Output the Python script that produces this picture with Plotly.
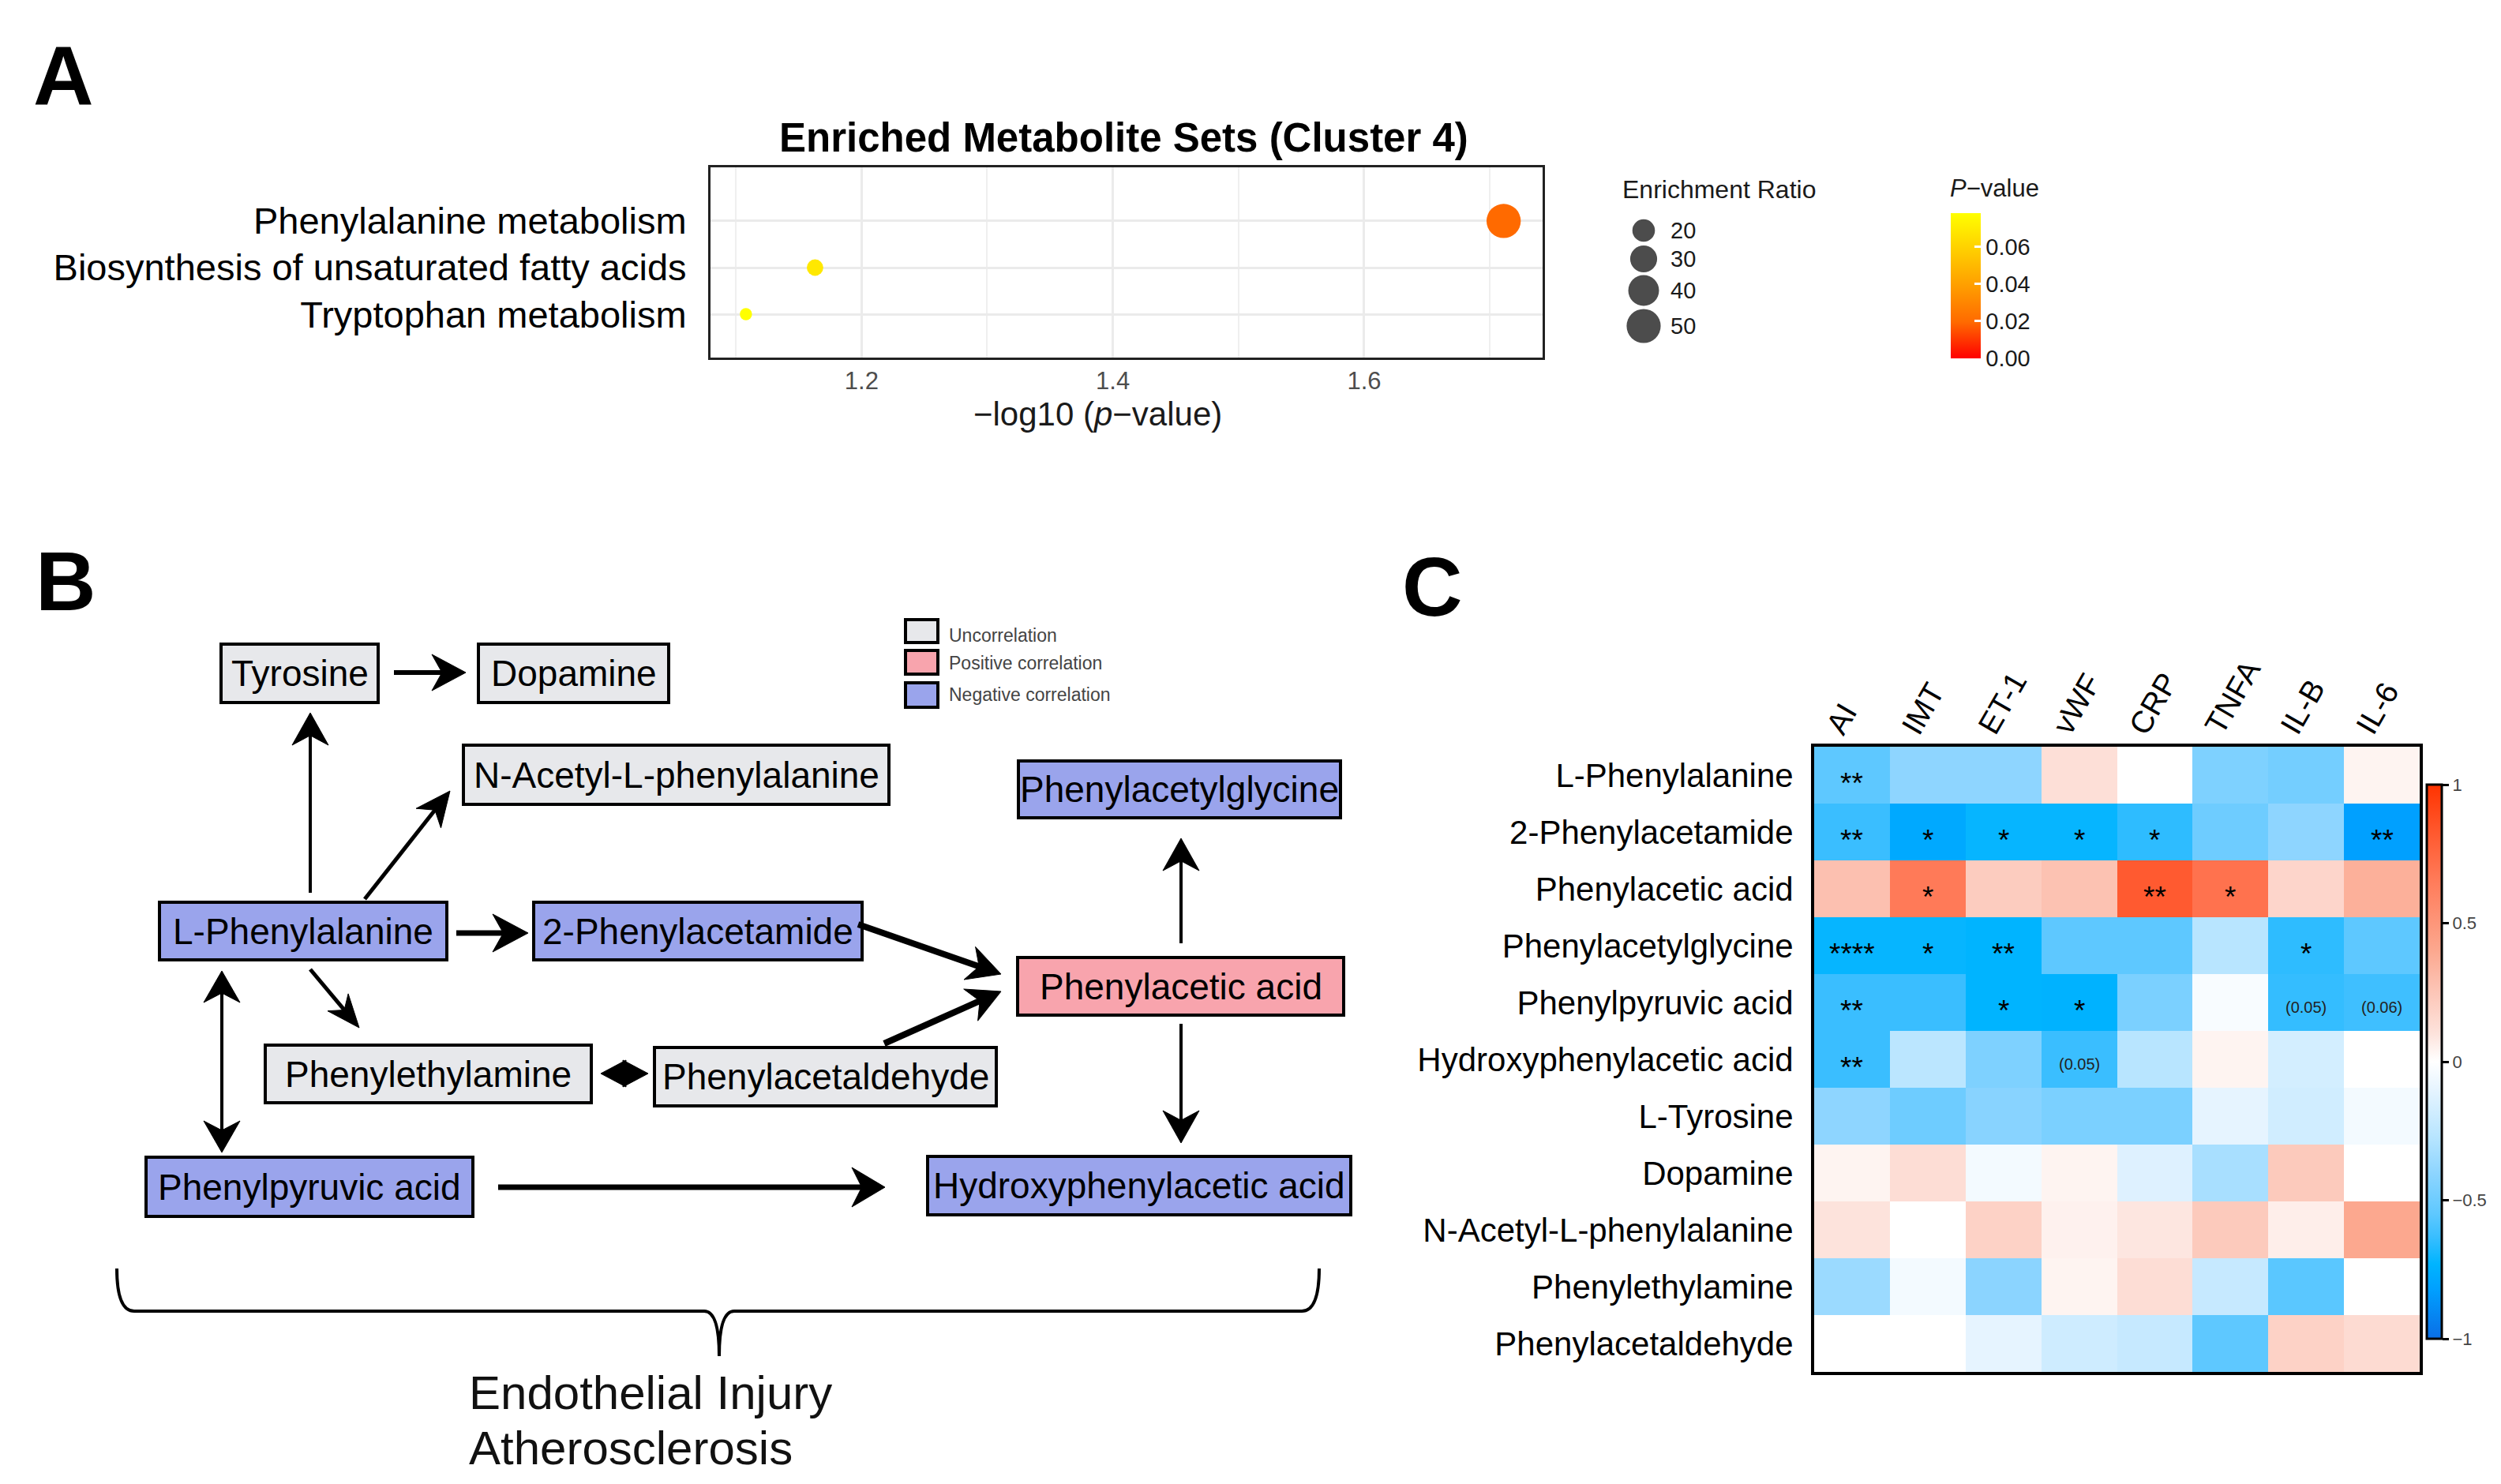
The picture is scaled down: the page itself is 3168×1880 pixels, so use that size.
import numpy as np
import plotly.graph_objects as go

# ---------------- DATA ----------------
# Panel A: enriched metabolite sets
pathways = ["Tryptophan metabolism", "Biosynthesis of unsaturated fatty acids", "Phenylalanine metabolism"]
neg_log10_p = [1.108, 1.163, 1.711]
enrichment_ratio = [3.4, 9.0, 50.5]
p_values = [0.078, 0.0687, 0.0195]
size_legend_values = [20, 30, 40, 50]
pval_ticks = [0.00, 0.02, 0.04, 0.06]
x_ticks_a = [1.2, 1.4, 1.6]

# Panel B: pathway nodes and their correlation class
nodes = ["Tyrosine", "Dopamine", "N-Acetyl-L-phenylalanine", "Phenylacetylglycine",
         "L-Phenylalanine", "2-Phenylacetamide", "Phenylacetic acid", "Phenylethylamine",
         "Phenylacetaldehyde", "Phenylpyruvic acid", "Hydroxyphenylacetic acid"]
node_class = ["none", "none", "none", "neg", "neg", "neg", "pos", "none", "none", "neg", "neg"]
edges = [("Tyrosine", "Dopamine"), ("L-Phenylalanine", "Tyrosine"),
         ("L-Phenylalanine", "N-Acetyl-L-phenylalanine"), ("L-Phenylalanine", "2-Phenylacetamide"),
         ("2-Phenylacetamide", "Phenylacetic acid"), ("Phenylacetaldehyde", "Phenylacetic acid"),
         ("Phenylacetic acid", "Phenylacetylglycine"), ("Phenylacetic acid", "Hydroxyphenylacetic acid"),
         ("L-Phenylalanine", "Phenylethylamine"), ("L-Phenylalanine", "Phenylpyruvic acid"),
         ("Phenylethylamine", "Phenylacetaldehyde"), ("Phenylpyruvic acid", "Hydroxyphenylacetic acid")]
edge_bidirectional = [False, False, False, False, False, False, False, False, False, True, True, False]
legend_classes = ["none", "pos", "neg"]
legend_labels = ["Uncorrelation", "Positive correlation", "Negative correlation"]
outcome_lines = ["Endothelial Injury", "Atherosclerosis"]

# Panel C: correlation heatmap
metabolites = ["L-Phenylalanine", "2-Phenylacetamide", "Phenylacetic acid", "Phenylacetylglycine",
               "Phenylpyruvic acid", "Hydroxyphenylacetic acid", "L-Tyrosine", "Dopamine",
               "N-Acetyl-L-phenylalanine", "Phenylethylamine", "Phenylacetaldehyde"]
clinical = ["AI", "IMT", "ET-1", "vWF", "CRP", "TNFA", "IL-B", "IL-6"]
corr = [
    [-0.55, -0.40, -0.40, 0.12, 0.00, -0.45, -0.48, 0.04],
    [-0.63, -0.78, -0.72, -0.72, -0.65, -0.50, -0.40, -0.82],
    [0.28, 0.66, 0.22, 0.27, 0.82, 0.70, 0.17, 0.36],
    [-0.72, -0.72, -0.73, -0.55, -0.55, -0.27, -0.65, -0.55],
    [-0.63, -0.63, -0.73, -0.74, -0.46, -0.03, -0.64, -0.62],
    [-0.63, -0.26, -0.45, -0.63, -0.27, 0.04, -0.17, 0.00],
    [-0.40, -0.50, -0.42, -0.46, -0.46, -0.10, -0.18, -0.05],
    [0.04, 0.13, -0.05, 0.04, -0.13, -0.32, 0.23, 0.00],
    [0.10, 0.00, 0.19, 0.05, 0.09, 0.23, 0.06, 0.40],
    [-0.36, -0.05, -0.41, 0.04, 0.13, -0.22, -0.56, 0.00],
    [0.00, 0.00, -0.10, -0.19, -0.22, -0.55, 0.19, 0.14],
]
sig = [
    ["**", "", "", "", "", "", "", ""],
    ["**", "*", "*", "*", "*", "", "", "**"],
    ["", "*", "", "", "**", "*", "", ""],
    ["****", "*", "**", "", "", "", "*", ""],
    ["**", "", "*", "*", "", "", "(0.05)", "(0.06)"],
    ["**", "", "", "(0.05)", "", "", "", ""],
    ["", "", "", "", "", "", "", ""],
    ["", "", "", "", "", "", "", ""],
    ["", "", "", "", "", "", "", ""],
    ["", "", "", "", "", "", "", ""],
    ["", "", "", "", "", "", "", ""],
]
corr_ticks = [-1, -0.5, 0, 0.5, 1]

# ---------------- STYLE / LAYOUT ----------------
W, H = 3168, 1880
FONT = "Liberation Sans"


def px_x(v):
    return v / W


def px_y(v):
    return 1 - v / H


def size_scale(v):
    return float(np.sqrt(120 + 34.9 * v))


pval_scale = [[0.0, "#FF0000"], [0.25, "#FF6A00"], [0.5, "#FF9E00"], [0.75, "#FFCF00"], [1.0, "#FFFF00"]]
corr_scale = [[0.0, "#0A6EE6"], [0.09, "#00A0FF"], [0.135, "#00B4FF"], [0.185, "#3ABEFF"],
              [0.225, "#5EC8FF"], [0.3, "#8ED5FF"], [0.365, "#B8E5FF"], [0.45, "#E6F4FF"],
              [0.5, "#FFFFFF"], [0.55, "#FDE3DC"], [0.64, "#FCC0B0"], [0.7, "#FCA88F"],
              [0.83, "#FF7A58"], [0.91, "#FF5A30"], [1.0, "#FF3300"]]
class_fill = {"none": "#E7E8EB", "pos": "#F8A4AD", "neg": "#9AA4EC"}

# node boxes (x0, y0, x1, y1) in figure pixels
node_box = {
    "Tyrosine": (272, 808, 471, 882),
    "Dopamine": (598, 808, 839, 882),
    "N-Acetyl-L-phenylalanine": (579, 936, 1118, 1011),
    "Phenylacetylglycine": (1282, 956, 1690, 1028),
    "L-Phenylalanine": (194, 1135, 558, 1208),
    "2-Phenylacetamide": (668, 1135, 1084, 1208),
    "Phenylacetic acid": (1281, 1205, 1694, 1278),
    "Phenylethylamine": (328, 1316, 741, 1389),
    "Phenylacetaldehyde": (821, 1319, 1254, 1393),
    "Phenylpyruvic acid": (177, 1458, 591, 1533),
    "Hydroxyphenylacetic acid": (1167, 1457, 1703, 1531),
}
# arrow geometry: (tail x, tail y, tip x, tip y, shaft width, head length, head half-width, notch)
edge_geom = [
    (491, 844, 582, 844, 6, 43, 23, 0.7),
    (385, 1123, 385, 895, 4, 41, 23, 0.7),
    (454, 1131, 562, 994, 5, 44, 20, 0.7),
    (570, 1174, 661, 1174, 7, 45, 24, 0.7),
    (1079, 1163, 1260, 1226, 8, 42, 22, 0.7),
    (1112, 1314, 1260, 1248, 8, 42, 22, 0.7),
    (1488, 1187, 1488, 1054, 4, 41, 23, 0.7),
    (1488, 1289, 1488, 1440, 4, 41, 23, 0.7),
    (385, 1220, 447, 1294, 5, 42, 17, 0.7),
    (273, 1222, 273, 1452, 4, 40, 23, 0.7),
    (753, 1352, 813, 1352, 2, 32, 17, 0.97),
    (623, 1496, 1113, 1496, 7, 42, 25, 0.7),
]
legend_box = [(1139, 777, 1180, 806), (1139, 816, 1180, 846), (1139, 857, 1180, 888)]
legend_label_y = [797, 832, 872]

fig = go.Figure()

# ---- Panel A dot plot ----
fig.add_trace(go.Scatter(
    x=neg_log10_p, y=pathways, mode="markers", xaxis="x", yaxis="y", showlegend=False,
    cliponaxis=False,
    marker=dict(size=[size_scale(v) for v in enrichment_ratio], color=p_values,
                colorscale=pval_scale, cmin=0, cmax=0.078, opacity=1, line=dict(width=0),
                colorbar=dict(x=px_x(2463), xanchor="left", xpad=0, ypad=0,
                              y=px_y(354), yanchor="middle", len=184 / H, lenmode="fraction",
                              thickness=38, outlinewidth=0, ticks="inside", ticklen=8,
                              tickwidth=3, tickcolor="white", tickvals=pval_ticks,
                              ticktext=[f"{t:.2f}" for t in pval_ticks],
                              tickfont=dict(family=FONT, size=29, color="#1a1a1a")))))

# size legend
sl_y = [284, 320, 360, 405]
fig.add_trace(go.Scatter(
    x=[2074] * len(size_legend_values), y=sl_y, mode="markers", xaxis="x3", yaxis="y3",
    showlegend=False, cliponaxis=False,
    marker=dict(size=[size_scale(v) for v in size_legend_values], color="black", line=dict(width=0))))

# ---- Panel C heatmap ----
fig.add_trace(go.Heatmap(
    z=corr, x=clinical, y=metabolites, xaxis="x2", yaxis="y2", zmin=-1, zmax=1,
    colorscale=corr_scale, showscale=True, hoverinfo="skip",
    colorbar=dict(x=px_x(3066), xanchor="left", xpad=0, ypad=0, y=px_y(1337), yanchor="middle",
                  len=702 / H, lenmode="fraction", thickness=19, outlinewidth=3,
                  outlinecolor="black", ticks="outside", ticklen=8, tickwidth=3,
                  tickcolor="black", tickvals=corr_ticks,
                  ticktext=["\u22121", "\u22120.5", "0", "0.5", "1"],
                  tickfont=dict(family=FONT, size=22, color="#444"))))

annotations = []
shapes = []

for v, yy in zip(size_legend_values, sl_y):
    annotations.append(dict(x=2106, y=yy, xref="x3", yref="y3", text=str(v), showarrow=False,
                            xanchor="left", font=dict(family=FONT, size=29, color="#1a1a1a")))

for i, m in enumerate(metabolites):
    for j, c in enumerate(clinical):
        s = sig[i][j]
        if not s:
            continue
        if s.startswith("("):
            annotations.append(dict(x=c, y=m, xref="x2", yref="y2", text=s, showarrow=False,
                                    font=dict(family=FONT, size=20, color="#222"), yshift=-6))
        else:
            annotations.append(dict(x=c, y=m, xref="x2", yref="y2", text=s, showarrow=False,
                                    font=dict(family=FONT, size=37, color="black"), yshift=-10))

# rotated column labels of the heatmap
for c in clinical:
    annotations.append(dict(x=c, y=px_y(932), xref="x2", yref="paper", text=c, showarrow=False,
                            textangle=-60, xanchor="left", yanchor="bottom", xshift=-44,
                            font=dict(family=FONT, size=39, color="black")))

# ---- Panel B diagram ----
for name, cls in zip(nodes, node_class):
    x0, y0, x1, y1 = node_box[name]
    shapes.append(dict(type="rect", xref="x3", yref="y3", x0=x0, y0=y0, x1=x1, y1=y1,
                       fillcolor=class_fill[cls], line=dict(color="black", width=4)))
    annotations.append(dict(x=(x0 + x1) / 2, y=(y0 + y1) / 2, xref="x3", yref="y3", text=name,
                            showarrow=False, font=dict(family=FONT, size=46, color="black")))


def head_path(tx, ty, ux, uy, hl, hw, notch):
    nx, ny = -uy, ux
    bx, by = tx - hl * ux, ty - hl * uy
    kx, ky = tx - notch * hl * ux, ty - notch * hl * uy
    return (f"M{tx:.1f},{ty:.1f} L{bx + hw * nx:.1f},{by + hw * ny:.1f} "
            f"L{kx:.1f},{ky:.1f} L{bx - hw * nx:.1f},{by - hw * ny:.1f} Z")


for (src, dst), bi, g in zip(edges, edge_bidirectional, edge_geom):
    tx, ty, hx, hy, wdt, hl, hw, notch = g
    L = float(np.hypot(hx - tx, hy - ty))
    ux, uy = (hx - tx) / L, (hy - ty) / L
    sx, sy = (tx + 0.6 * hl * ux, ty + 0.6 * hl * uy) if bi else (tx, ty)
    ex, ey = hx - 0.6 * hl * ux, hy - 0.6 * hl * uy
    shapes.append(dict(type="line", xref="x3", yref="y3", x0=sx, y0=sy, x1=ex, y1=ey,
                       line=dict(color="black", width=wdt)))
    shapes.append(dict(type="path", xref="x3", yref="y3",
                       path=head_path(hx, hy, ux, uy, hl, hw, notch),
                       fillcolor="black", line=dict(color="black", width=1)))
    if bi:
        shapes.append(dict(type="path", xref="x3", yref="y3",
                           path=head_path(tx, ty, -ux, -uy, hl, hw, notch),
                           fillcolor="black", line=dict(color="black", width=1)))

for cls, lab, bx, ly in zip(legend_classes, legend_labels, legend_box, legend_label_y):
    shapes.append(dict(type="rect", xref="x3", yref="y3", x0=bx[0], y0=bx[1], x1=bx[2], y1=bx[3],
                       fillcolor=class_fill[cls], line=dict(color="black", width=4)))
    annotations.append(dict(x=1192, y=ly, xref="x3", yref="y3", text=lab, showarrow=False,
                            xanchor="left", font=dict(family=FONT, size=23, color="#444")))

# brace
shapes.append(dict(type="path", xref="x3", yref="y3",
                   path="M140,1599 Q140,1653 162,1653 L884,1653 Q903,1653 903,1710 "
                        "Q903,1653 922,1653 L1641,1653 Q1663,1653 1663,1599",
                   line=dict(color="black", width=4)))
for k, t in enumerate(outcome_lines):
    annotations.append(dict(x=584, y=1756 + 70 * k, xref="x3", yref="y3", text=t, showarrow=False,
                            xanchor="left", font=dict(family=FONT, size=60, color="#111")))

# ---- titles and labels ----
for lab, (lx, ly) in zip(["A", "B", "C"], [(72, 88), (75, 728), (1806, 735)]):
    annotations.append(dict(x=lx, y=ly, xref="x3", yref="y3", text=f"<b>{lab}</b>", showarrow=False,
                            font=dict(family=FONT, size=106, color="black")))
annotations.append(dict(x=1415, y=166, xref="x3", yref="y3",
                        text="<b>Enriched Metabolite Sets (Cluster 4)</b>", showarrow=False,
                        font=dict(family=FONT, size=51, color="black")))
annotations.append(dict(x=1382, y=516, xref="x3", yref="y3",
                        text="\u2212log10 (<i>p</i>\u2212value)", showarrow=False,
                        font=dict(family=FONT, size=42, color="#1a1a1a")))
annotations.append(dict(x=2045, y=232, xref="x3", yref="y3", text="Enrichment Ratio",
                        showarrow=False, xanchor="left",
                        font=dict(family=FONT, size=32, color="#1a1a1a")))
annotations.append(dict(x=2460, y=230, xref="x3", yref="y3", text="<i>P</i>\u2212value",
                        showarrow=False, xanchor="left",
                        font=dict(family=FONT, size=31, color="#1a1a1a")))

fig.update_layout(
    width=W, height=H, margin=dict(l=0, r=0, t=0, b=0, pad=0),
    paper_bgcolor="white", plot_bgcolor="rgba(0,0,0,0)",
    font=dict(family=FONT, color="black"),
    xaxis=dict(domain=[px_x(892), px_x(1946)], range=[1.0798, 1.742], anchor="y",
               tickvals=x_ticks_a, ticktext=[f"{t:.1f}" for t in x_ticks_a],
               showgrid=True, gridcolor="#EBEBEB", gridwidth=3,
               minor=dict(tickvals=[1.1, 1.3, 1.5, 1.7], showgrid=True, gridcolor="#EFEFEF",
                          gridwidth=1.5, ticks=""),
               zeroline=False, showline=True, mirror=True, linecolor="#222", linewidth=3,
               ticks="", tickfont=dict(family=FONT, size=31, color="#4D4D4D"),
               ticklabelstandoff=0),
    yaxis=dict(domain=[px_y(445), px_y(204)], range=[-0.93, 3.15], anchor="x",
               type="category", categoryorder="array", categoryarray=pathways,
               showgrid=True, gridcolor="#EBEBEB", gridwidth=3, zeroline=False,
               showline=True, mirror=True, linecolor="#222", linewidth=3,
               ticks="", tickfont=dict(family=FONT, size=47, color="black"),
               ticklabelstandoff=18),
    xaxis2=dict(domain=[px_x(2290), px_x(3057)], anchor="y2", side="top", type="category",
                categoryorder="array", categoryarray=clinical, showticklabels=False, ticks="",
                showgrid=False, zeroline=False, showline=True, mirror=True, linecolor="black",
                linewidth=4),
    yaxis2=dict(domain=[px_y(1730), px_y(938)], anchor="x2", type="category",
                categoryorder="array", categoryarray=metabolites, autorange="reversed",
                ticks="", showgrid=False, zeroline=False, showline=True, mirror=True,
                linecolor="black", linewidth=4,
                tickfont=dict(family=FONT, size=42, color="black"), ticklabelstandoff=14),
    xaxis3=dict(domain=[0, 1], range=[0, W], anchor="y3", visible=False, fixedrange=True),
    yaxis3=dict(domain=[0, 1], range=[H, 0], anchor="x3", visible=False, fixedrange=True),
    shapes=shapes, annotations=annotations,
)

fig.write_html("out.html")
